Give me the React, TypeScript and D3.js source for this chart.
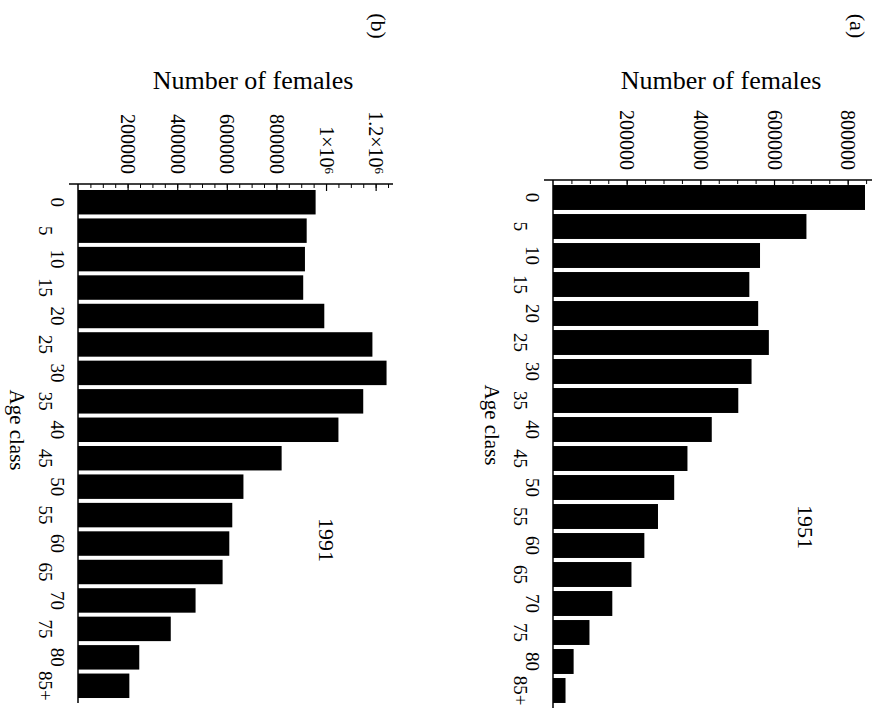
import React, { useEffect, useRef } from "react";
import * as d3 from "d3";

// age classes along the band axis
const ageClasses = ["0", "5", "10", "15", "20", "25", "30", "35", "40", "45", "50", "55", "60", "65", "70", "75", "80", "85+"];

// number of females per age class
const females1951 = [847000, 688000, 562000, 533000, 557000, 586000, 539000, 503000, 431000, 365000, 329000, 285000, 248000, 213000, 161000, 99000, 56000, 34000];
const females1991 = [958000, 922000, 915000, 908000, 993000, 1187000, 1244000, 1150000, 1050000, 821000, 667000, 622000, 610000, 583000, 474000, 374000, 247000, 207000];

const ticks1951 = [200000, 400000, 600000, 800000];
const ticks1991 = [200000, 400000, 600000, 800000, 1000000, 1200000];

const FONT = "'Liberation Serif', 'Times New Roman', serif";

function drawPanel(svg: any, cfg: any) {
  const x = d3.scaleLinear().domain([0, cfg.max]).range([cfg.x0, cfg.x1]);
  const y = d3.scaleBand().domain(ageClasses).range([cfg.yb0, cfg.yb1]).paddingInner(0.14).paddingOuter(0.07);

  const g = svg.append("g");

  // bars
  g.selectAll("rect.bar")
    .data(cfg.values.map((v: number, i: number) => ({ age: ageClasses[i], v })))
    .enter()
    .append("rect")
    .attr("class", "bar")
    .attr("x", x(0))
    .attr("y", (d: any) => y(d.age))
    .attr("width", (d: any) => x(d.v) - x(0))
    .attr("height", y.bandwidth())
    .attr("fill", "#000");

  // minor ticks on value axis
  const minor = g.append("g").attr("transform", `translate(0,${cfg.axisY})`)
    .call(d3.axisTop(x).tickValues(d3.range(50000, cfg.max, 50000)).tickSizeInner(-4).tickSizeOuter(0).tickFormat(() => ""));
  minor.select(".domain").remove();
  minor.selectAll("line").attr("stroke", "#000").attr("stroke-width", 1);

  // major ticks + rotated labels
  const major = g.append("g").attr("transform", `translate(0,${cfg.axisY})`)
    .call(d3.axisTop(x).tickValues(cfg.ticks).tickSizeInner(-7).tickSizeOuter(0).tickFormat((d: any) => String(d)));
  major.select(".domain").remove();
  major.selectAll("line").attr("stroke", "#000").attr("stroke-width", 1.2);
  major.selectAll("text")
    .attr("x", -10)
    .attr("y", 0)
    .attr("dy", "0.35em")
    .attr("text-anchor", "end")
    .attr("transform", "rotate(90)")
    .attr("fill", "#000")
    .style("font-family", FONT)
    .style("font-size", "20px")
    .each(function (this: any, d: any) {
      if (d >= 1000000) {
        const t = d3.select(this);
        t.text("");
        t.append("tspan").text(`${d / 1000000}×10`);
        t.append("tspan").attr("dy", "-0.45em").style("font-size", "13px").text("6");
      }
    });

  // value axis line
  g.append("line")
    .attr("x1", cfg.x0 - 9).attr("x2", cfg.x1)
    .attr("y1", cfg.axisY).attr("y2", cfg.axisY)
    .attr("stroke", "#000").attr("stroke-width", 1.5);

  // age axis, labels staggered in two rows
  const ageAxis = g.append("g").attr("transform", `translate(${cfg.x0},0)`)
    .call(d3.axisLeft(y).tickSize(0));
  ageAxis.select(".domain").remove();
  ageAxis.selectAll("text")
    .attr("x", 0)
    .attr("y", 0)
    .attr("dy", 0)
    .attr("text-anchor", "middle")
    .attr("transform", (d: any, i: number) => `translate(${i % 2 === 0 ? -27 : -39},0) rotate(90)`)
    .attr("fill", "#000")
    .style("font-family", FONT)
    .style("font-size", "19px");

  g.append("line")
    .attr("x1", cfg.x0).attr("x2", cfg.x0)
    .attr("y1", cfg.axisY).attr("y2", cfg.yb1 + 3)
    .attr("stroke", "#000").attr("stroke-width", 1.5);

  // labels
  g.append("text")
    .attr("transform", `translate(${cfg.x0 - 68},${cfg.ageLabelY}) rotate(90)`)
    .attr("text-anchor", "middle")
    .style("font-family", FONT).style("font-size", "21px")
    .text("Age class");

  g.append("text")
    .attr("x", cfg.titleX).attr("y", 89)
    .attr("text-anchor", "middle")
    .style("font-family", FONT).style("font-size", "26px")
    .text("Number of females");

  g.append("text")
    .attr("transform", `translate(${cfg.tagX},26) rotate(90)`)
    .attr("text-anchor", "middle").attr("dy", "0.35em")
    .style("font-family", FONT).style("font-size", "22px")
    .text(cfg.tag);

  g.append("text")
    .attr("transform", `translate(${cfg.yearX},${cfg.yearY}) rotate(90)`)
    .attr("text-anchor", "middle").attr("dy", "0.35em")
    .style("font-family", FONT).style("font-size", "22px")
    .text(cfg.year);
}

export default function App() {
  const ref = useRef<SVGSVGElement>(null);

  useEffect(() => {
    const svg = d3.select(ref.current);
    svg.selectAll("*").remove();

    drawPanel(svg, {
      values: females1951, ticks: ticks1951, max: 866000,
      x0: 553, x1: 872, axisY: 180, yb0: 183, yb1: 705,
      ageLabelY: 425, titleX: 721, tagX: 858, tag: "(a)",
      year: "1951", yearX: 806, yearY: 527,
    });
    drawPanel(svg, {
      values: females1991, ticks: ticks1991, max: 1270000,
      x0: 78, x1: 393, axisY: 184, yb0: 188, yb1: 700,
      ageLabelY: 430, titleX: 253, tagX: 379, tag: "(b)",
      year: "1991", yearX: 327, yearY: 540,
    });
  }, []);

  return (
    <svg ref={ref} width={880} height={712}
      style={{ position: "absolute", left: 0, top: 0, background: "#fff" }} />
  );
}
